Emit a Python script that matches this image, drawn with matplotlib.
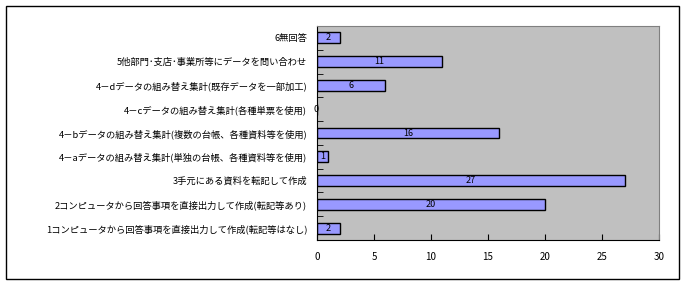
import matplotlib
matplotlib.use('Agg')
import matplotlib.pyplot as plt
from matplotlib.patches import Rectangle
import numpy as np

plt.rcParams['font.family'] = ['Noto Sans CJK JP', 'DejaVu Sans']

labels = [
    '1コンピュータから回答事項を直接出力して作成(転記等はなし)',
    '2コンピュータから回答事項を直接出力して作成(転記等あり)',
    '3手元にある資料を転記して作成',
    '4－aデータの組み替え集計(単独の台帳、各種資料等を使用)',
    '4－bデータの組み替え集計(複数の台帳、各種資料等を使用)',
    '4－cデータの組み替え集計(各種単票を使用)',
    '4－dデータの組み替え集計(既存データを一部加工)',
    '5他部門･支店･事業所等にデータを問い合わせ',
    '6無回答',
]
values = [2, 20, 27, 1, 16, 0, 6, 11, 2]
xticks = [0, 5, 10, 15, 20, 25, 30]

fig = plt.figure(figsize=(6.87, 2.86), dpi=100)
# outer chart frame
fig.patches.append(Rectangle((6 / 687, 7 / 286), 673 / 687, 273 / 286,
                             transform=fig.transFigure, fill=False,
                             edgecolor='black', linewidth=1))
ax = fig.add_axes([317 / 687, 46 / 286, 342 / 687, 214 / 286])
ax.set_facecolor('#C0C0C0')

y = np.arange(len(values))
ax.barh(y, values, height=0.46, color='#9999FF', edgecolor='black', linewidth=1)
for yi, v in zip(y, values):
    ax.text(v / 2 if v > 0 else -0.05, yi, str(v), ha='center', va='center',
            fontsize=6.5, color='black')

ax.set_xlim(0, 30)
ax.set_ylim(-0.5, len(values) - 0.5)
ax.set_xticks(xticks)
ax.set_xticklabels([str(t) for t in xticks], fontsize=7)
ax.set_yticks(y)
ax.set_yticklabels(labels, fontsize=6.7)
ax.set_yticks(np.arange(len(values) + 1) - 0.5, minor=True)
ax.tick_params(axis='y', which='major', length=0, pad=7)
ax.tick_params(axis='y', which='minor', length=4, direction='in', color='black')
ax.tick_params(axis='x', length=4, direction='in', pad=9)
for s in ['top', 'right']:
    ax.spines[s].set_color('#808080')
for s in ['left', 'bottom']:
    ax.spines[s].set_color('black')

fig.savefig('out.png', dpi=100)
